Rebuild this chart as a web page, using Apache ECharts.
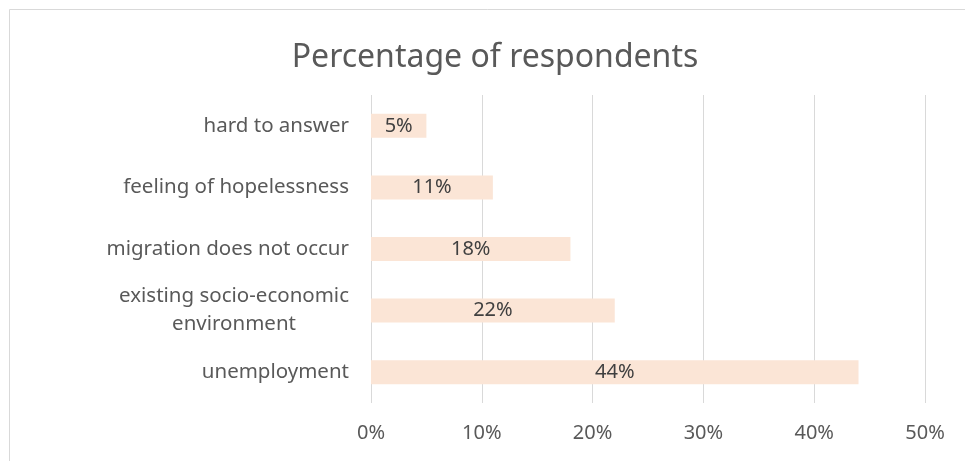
<!DOCTYPE html>
<html>
<head>
<meta charset="utf-8">
<script src="https://cdn.jsdelivr.net/npm/echarts@6/dist/echarts.min.js"></script>
<style>html,body{margin:0;padding:0;background:#fff}#c{width:965px;height:461px}</style>
</head>
<body>
<div id="c"></div>
<script>
const categories = ['unemployment', 'existing socio-economic\nenvironment', 'migration does not occur', 'feeling of hopelessness', 'hard to answer'];
const values = [44, 22, 18, 11, 5];
const tickMax = 50;
const tickStep = 10;
const titleText = 'Percentage of respondents';

const FONT = 'Noto Sans';
const chart = echarts.init(document.getElementById('c'));
chart.setOption({
  animation: false,
  backgroundColor: '#ffffff',
  title: {
    text: titleText,
    left: 490, top: 37, textAlign: 'center',
    textStyle: { fontFamily: FONT, fontSize: 32, fontWeight: 'normal', color: '#595959' }
  },
  graphic: [{
    type: 'rect', silent: true,
    shape: { x: 9.5, y: 9.5, width: 980, height: 480 },
    style: { fill: 'none', stroke: '#d9d9d9', lineWidth: 1 }
  }],
  grid: { left: 371, right: 40, top: 95, bottom: 58 },
  xAxis: {
    type: 'value', min: 0, max: tickMax, interval: tickStep,
    axisLine: { show: false }, axisTick: { show: false },
    splitLine: { lineStyle: { color: '#d9d9d9', width: 1 } },
    axisLabel: { formatter: '{value}%', margin: 20, fontFamily: FONT, fontSize: 20, color: '#595959' }
  },
  yAxis: {
    type: 'category', data: categories,
    axisLine: { show: false }, axisTick: { show: false },
    axisLabel: {
      margin: 22, fontFamily: FONT, fontSize: 20.5, color: '#595959',
      formatter: function (v) {
        return v.split('\n').map(function (l) { return '{c|' + l + '}'; }).join('\n');
      },
      rich: { c: { align: 'center', fontFamily: FONT, fontSize: 20.5, color: '#595959', lineHeight: 28 } }
    }
  },
  series: [{
    type: 'bar', data: values, barWidth: 24,
    itemStyle: { color: '#fbe5d6' },
    label: { show: true, position: 'inside', formatter: '{c}%', fontFamily: FONT, fontSize: 20, color: '#404040' }
  }]
});
</script>
</body>
</html>
